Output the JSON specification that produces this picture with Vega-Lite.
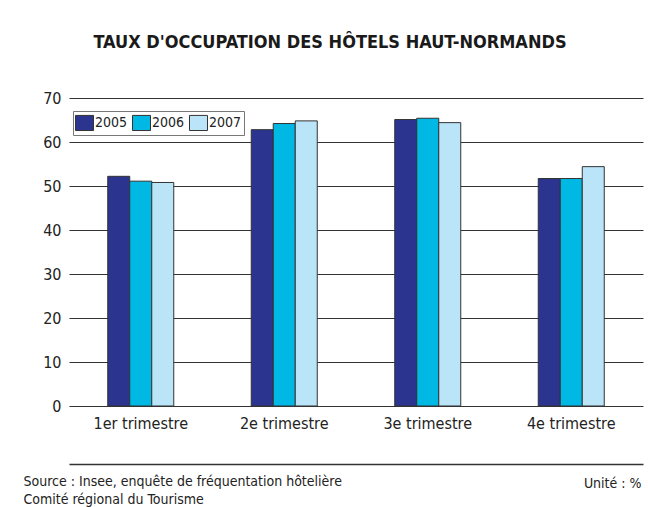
{
  "$schema": "https://vega.github.io/schema/vega-lite/v6.json",
  "width": 574,
  "height": 308,
  "autosize": {"type": "none"},
  "padding": {"left": 69, "top": 98, "right": 5, "bottom": 101},
  "background": "white",
  "title": {
    "text": "TAUX D'OCCUPATION DES HÔTELS HAUT-NORMANDS",
    "anchor": "middle",
    "dx": -26,
    "offset": 38,
    "font": "Liberation Sans Narrow, DejaVu Sans Condensed, sans-serif",
    "fontSize": 18,
    "fontWeight": "bold",
    "color": "#1a1a1a"
  },
  "data": {
    "values": [
      {"trimestre": "1er trimestre", "annee": "2005", "taux": 52.2},
      {"trimestre": "1er trimestre", "annee": "2006", "taux": 51.1},
      {"trimestre": "1er trimestre", "annee": "2007", "taux": 50.8},
      {"trimestre": "2e trimestre", "annee": "2005", "taux": 62.8},
      {"trimestre": "2e trimestre", "annee": "2006", "taux": 64.2},
      {"trimestre": "2e trimestre", "annee": "2007", "taux": 64.8},
      {"trimestre": "3e trimestre", "annee": "2005", "taux": 65.1},
      {"trimestre": "3e trimestre", "annee": "2006", "taux": 65.4},
      {"trimestre": "3e trimestre", "annee": "2007", "taux": 64.4},
      {"trimestre": "4e trimestre", "annee": "2005", "taux": 51.7},
      {"trimestre": "4e trimestre", "annee": "2006", "taux": 51.7},
      {"trimestre": "4e trimestre", "annee": "2007", "taux": 54.4}
    ]
  },
  "mark": {"type": "bar", "stroke": "#333333", "strokeWidth": 1},
  "encoding": {
    "x": {
      "field": "trimestre",
      "type": "nominal",
      "sort": null,
      "scale": {"paddingInner": 0.54, "paddingOuter": 0.27},
      "axis": {
        "title": ["Source : Insee, enquête de fréquentation hôtelière", "Comité régional du Tourisme"],
        "titleFont": "Liberation Sans Narrow, DejaVu Sans Condensed, sans-serif",
        "titleFontSize": 14,
        "titleFontWeight": "normal",
        "titleColor": "#222222",
        "titleAnchor": "start",
        "titleAlign": "left",
        "titleBaseline": "middle",
        "titleLineHeight": 18,
        "titleX": -46,
        "titleY": 17,
        "offset": 58,
        "labelAngle": 0,
        "labelFont": "Liberation Sans Narrow, DejaVu Sans Condensed, sans-serif",
        "labelFontSize": 16,
        "labelColor": "#222222",
        "labelPadding": -49,
        "ticks": false,
        "domain": true,
        "domainColor": "#333333",
        "domainWidth": 1.5
      }
    },
    "xOffset": {"field": "annee", "type": "nominal", "scale": {"paddingInner": 0, "paddingOuter": 0}},
    "y": {
      "field": "taux",
      "type": "quantitative",
      "scale": {"domain": [0, 70], "nice": false},
      "axis": {
        "values": [0, 10, 20, 30, 40, 50, 60, 70],
        "title": "Unité : %",
        "titleAngle": 0,
        "titleAlign": "right",
        "titleBaseline": "middle",
        "titleX": 572,
        "titleY": 385,
        "titleFont": "Liberation Sans Narrow, DejaVu Sans Condensed, sans-serif",
        "titleFontSize": 14,
        "titleFontWeight": "normal",
        "titleColor": "#222222",
        "labelFont": "Liberation Sans Narrow, DejaVu Sans Condensed, sans-serif",
        "labelFontSize": 16,
        "labelColor": "#222222",
        "labelPadding": 8,
        "ticks": false,
        "domain": false,
        "grid": true,
        "gridColor": "#333333",
        "gridWidth": 1,
        "gridOpacity": 1
      }
    },
    "color": {
      "field": "annee",
      "type": "nominal",
      "scale": {"domain": ["2005", "2006", "2007"], "range": ["#2B3590", "#00B8E4", "#BAE4F7"]},
      "legend": {
        "title": null,
        "orient": "none",
        "legendX": 4,
        "legendY": 13,
        "direction": "horizontal",
        "strokeColor": "#777777",
        "fillColor": "white",
        "padding": 2,
        "symbolType": "M-1,-0.84H1V0.84H-1Z",
        "symbolSize": 324,
        "symbolStrokeColor": "#333333",
        "symbolStrokeWidth": 1,
        "symbolOpacity": 1,
        "labelFont": "Liberation Sans Narrow, DejaVu Sans Condensed, sans-serif",
        "labelFontSize": 14,
        "labelColor": "#222222",
        "labelOffset": 1,
        "columnPadding": 2
      }
    }
  },
  "config": {
    "view": {"stroke": null}
  }
}
